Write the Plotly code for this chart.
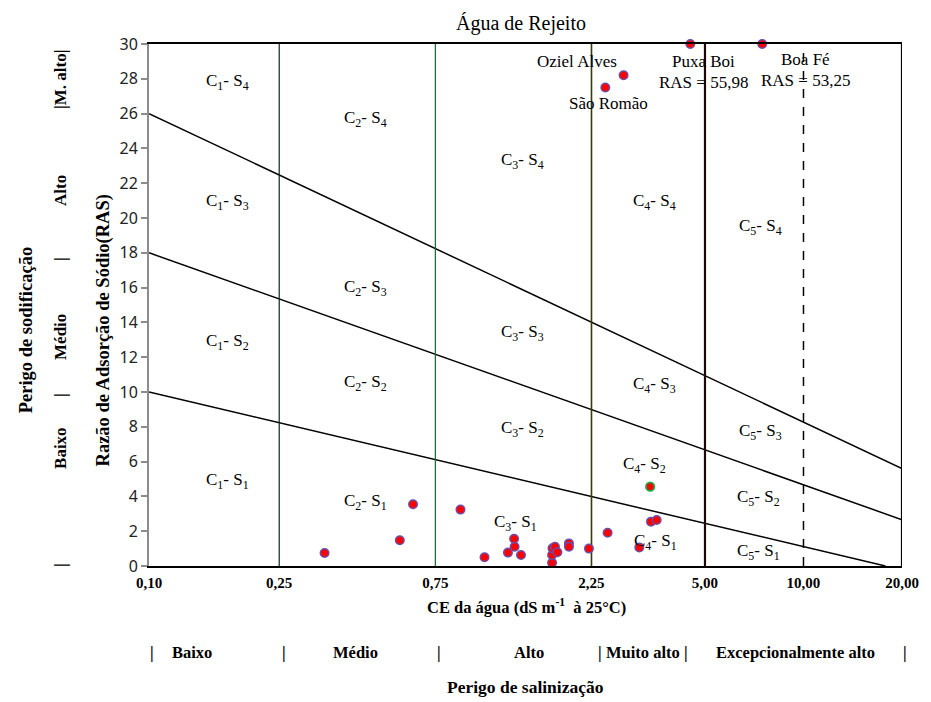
import math
import plotly.graph_objects as go

# ---------------- data ----------------
# water samples: electrical conductivity (dS/m) and sodium adsorption ratio
sample_ce = [0.344, 0.584, 0.641, 0.895, 1.06, 1.25, 1.305, 1.31, 1.37, 1.705, 1.705, 1.71,
             1.74, 1.77, 1.92, 1.92, 2.21, 2.52, 3.15, 3.42, 3.56]
sample_ras = [0.75, 1.48, 3.55, 3.24, 0.5, 0.77, 1.57, 1.11, 0.63, 0.19, 0.63, 1.02,
              1.11, 0.79, 1.30, 1.11, 1.0, 1.91, 1.07, 2.55, 2.64]

highlight_ce = [3.40]
highlight_ras = [4.56]

named_names = ["São Romão", "Oziel Alves", "Puxa Boi", "Boa Fé"]
named_ce = [2.48, 2.82, 4.51, 7.48]
named_ras = [27.5, 28.2, 55.98, 53.25]

# salinity class limits (dS/m)
class_limits = [0.25, 0.75, 2.25, 5.0, 10.0, 20.0]

# sodium hazard boundary lines (CE, RAS end points)
s1s2_ce = [0.1, 17.8]
s1s2_ras = [10, 0]
s2s3_ce = [0.1, 20]
s2s3_ras = [18, 2.66]
s3s4_ce = [0.1, 20]
s3s4_ras = [26, 5.6]

x_tickvals = [0.1, 0.25, 0.75, 2.25, 5.0, 10.0, 20.0]
x_ticktext = ["0,10", "0,25", "0,75", "2,25", "5,00", "10,00", "20,00"]
y_tickvals = list(range(0, 31, 2))

# --------------- figure ---------------
SERIF = "Liberation Serif"
W, H = 931, 702
L, R, T, B = 149, 910, 44, 566

def px(x):
    return (x - L) / (R - L)

def py(y):
    return (B - y) / (B - T)

fig = go.Figure()

# sodium boundary lines
for xs, ys in [(s1s2_ce, s1s2_ras), (s2s3_ce, s2s3_ras), (s3s4_ce, s3s4_ras)]:
    fig.add_trace(go.Scatter(x=xs, y=ys, mode="lines",
                             line=dict(color="black", width=1.5),
                             hoverinfo="skip", showlegend=False))

# class limit verticals
v_styles = [
    dict(color="#0b2626", width=1.2, dash="solid"),
    dict(color="#0f6a30", width=1.2, dash="solid"),
    dict(color="#3a3a0c", width=1.6, dash="solid"),
    dict(color="#220606", width=2.2, dash="solid"),
    dict(color="black", width=1.5, dash="dash"),
    dict(color="black", width=2.2, dash="solid"),
]
for v, st in zip(class_limits, v_styles):
    fig.add_trace(go.Scatter(x=[v, v], y=[0, 30], mode="lines", line=st,
                             hoverinfo="skip", showlegend=False))

marker_line = "#6a4fa8"
fig.add_trace(go.Scatter(x=sample_ce, y=sample_ras, mode="markers",
                         marker=dict(color="#ff0000", size=8.5,
                                     line=dict(color=marker_line, width=1.5)),
                         showlegend=False, cliponaxis=False))
fig.add_trace(go.Scatter(x=highlight_ce, y=highlight_ras, mode="markers",
                         marker=dict(color="#ff0000", size=8.5,
                                     line=dict(color="#14b04a", width=1.8)),
                         showlegend=False, cliponaxis=False))
fig.add_trace(go.Scatter(x=named_ce, y=[min(v, 30) for v in named_ras], mode="markers",
                         marker=dict(color="#ff0000", size=8.5,
                                     line=dict(color=marker_line, width=1.5)),
                         text=named_names, showlegend=False, cliponaxis=False))

ann = []

def data_text(text, ce, ras, size=17):
    ann.append(dict(x=math.log10(ce), y=ras, xref="x", yref="y", text=text,
                    showarrow=False, font=dict(family=SERIF, size=size, color="black"),
                    xanchor="center", yanchor="middle"))

def sub(c, s):
    return f"C<sub>{c}</sub>- S<sub>{s}</sub>"

region_pos = [
    (1, 4, 0.174, 27.8), (2, 4, 0.459, 25.7), (3, 4, 1.387, 23.3), (4, 4, 3.50, 20.9), (5, 4, 7.41, 19.5),
    (1, 3, 0.174, 20.9), (2, 3, 0.459, 16.0), (3, 3, 1.387, 13.4), (4, 3, 3.50, 10.4), (5, 3, 7.41, 7.7),
    (1, 2, 0.174, 12.9), (2, 2, 0.459, 10.5), (3, 2, 1.387, 7.9), (4, 2, 3.26, 5.8), (5, 2, 7.31, 3.9),
    (1, 1, 0.174, 4.9), (2, 1, 0.459, 3.7), (3, 1, 1.32, 2.5), (4, 1, 3.54, 1.4), (5, 1, 7.31, 0.8),
]
for c, s, ce, ras in region_pos:
    data_text(sub(c, s), ce, ras)

# named sample labels
data_text("Oziel Alves", 2.03, 29.0)
data_text("São Romão", 2.54, 26.6)
data_text("Puxa Boi", 4.95, 29.0)
data_text(f"RAS = {str(named_ras[2]).replace('.', ',')}", 4.95, 27.8)
data_text("Boa Fé", 10.14, 29.1)
data_text(f"RAS = {str(named_ras[3]).replace('.', ',')}", 10.14, 27.9)

def pix_text(text, x, y, size=16, bold=True, angle=0, xanchor="center"):
    ann.append(dict(x=px(x), y=py(y), xref="paper", yref="paper", text=text,
                    showarrow=False, textangle=angle,
                    font=dict(family=SERIF, size=size, color="black",
                              weight="bold" if bold else "normal"),
                    xanchor=xanchor, yanchor="middle"))

# title
pix_text("Água de Rejeito", 525, 24, size=20, bold=False)
# axis titles
pix_text("CE da água (dS m<sup>-1</sup>  à 25°C)", 531, 606, size=16.5)
pix_text("Perigo de salinização", 530, 687, size=17.5)
pix_text("Razão de Adsorção de Sódio(RAS)", 103, 330, size=18.5, angle=-90)
pix_text("Perigo de sodificação", 25, 330, size=18.5, angle=-90)

# left sodium hazard classes
for t, y in [("|M. alto|", 79), ("Alto", 190), ("|", 259), ("Médio", 337),
             ("|", 395), ("Baixo", 448), ("|", 565)]:
    pix_text(t, 59, y, size=17, angle=-90)

# bottom salinity hazard classes
for t, x in [("|", 152), ("Baixo", 192), ("|", 285), ("Médio", 358), ("|", 442),
             ("Alto", 533), ("|", 605), ("Muito alto", 648), ("|", 692),
             ("Excepcionalmente alto", 802), ("|", 913)]:
    pix_text(t, x, 652, size=16.5)

fig.update_layout(
    width=W, height=H,
    margin=dict(l=L, r=W - R, t=T, b=H - B),
    plot_bgcolor="white", paper_bgcolor="white",
    annotations=ann,
    showlegend=False,
)
fig.update_xaxes(type="log", range=[-1, math.log10(20)],
                 tickvals=x_tickvals, ticktext=x_ticktext,
                 showgrid=False, zeroline=False,
                 showline=True, linecolor="black", linewidth=2, mirror=True,
                 ticks="", ticklabelstandoff=2, ticklabeloverflow="allow",
                 tickfont=dict(family=SERIF, size=15, color="black", weight="bold"))
fig.update_yaxes(range=[0, 30], tickvals=y_tickvals,
                 showgrid=False, zeroline=False,
                 showline=True, linecolor="#8c8c8c", linewidth=2,
                 ticks="outside", ticklen=6, tickcolor="#8c8c8c", tickwidth=1.5,
                 tickfont=dict(family="Noto Sans", size=16, color="#222"))

fig.write_html("out.html", config={"displayModeBar": False},
               post_script="document.body.style.margin='0';document.body.style.overflow='hidden';")
